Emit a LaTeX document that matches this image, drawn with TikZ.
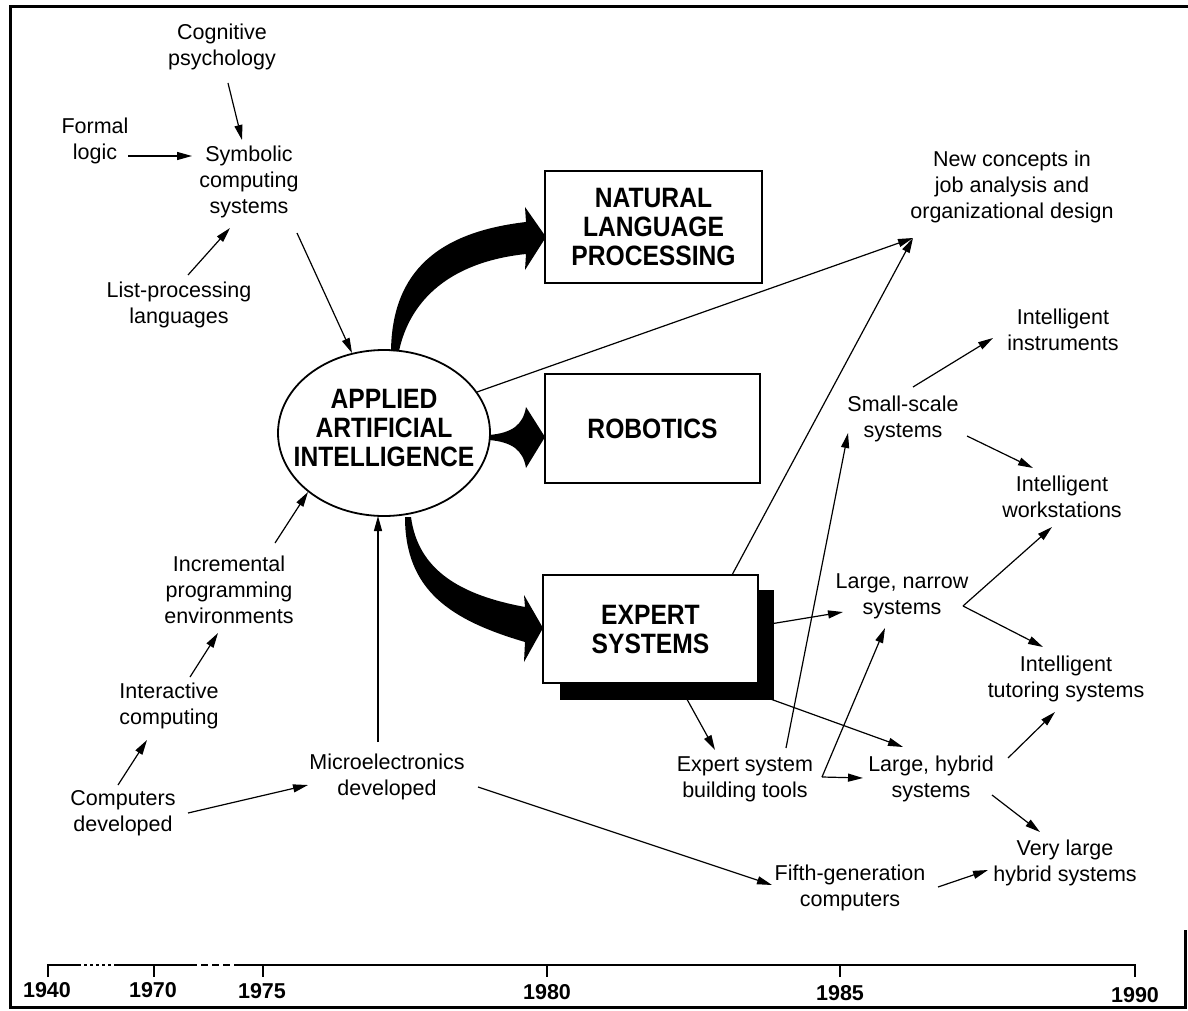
\documentclass[tikz,border=0pt]{standalone}
\usepackage{fontspec}
\setmainfont{Liberation Sans}
\newfontfamily\bcond[FakeStretch=0.88]{Liberation Sans}
\usetikzlibrary{arrows.meta,calc,shapes.geometric,backgrounds}
\begin{document}
\begin{tikzpicture}[x=1pt,y=-1pt,
  txt/.style={font=\fontsize{21.5}{26}\selectfont, align=center, inner sep=0pt},
  big/.style={font=\bcond\bfseries\fontsize{28}{29}\selectfont, align=center, inner sep=0pt},
  con/.style={line width=1.2pt, -{Triangle[length=15pt,width=8pt]}},
  boxst/.style={draw, line width=2pt, fill=white, inner sep=0pt},
  fat/.style={fill=black},
  yr/.style={font=\bfseries\fontsize{21.5}{24}\selectfont, inner sep=0pt},
  tl/.style={line width=2.5pt}
]
\useasboundingbox (0,0) rectangle (1188,1011);

% frame
\draw[line width=3pt] (1185,930) -- (1185,1007) -- (10,1007) -- (10,7) -- (1188,7);

% text nodes
\node[txt] (cog) at (222,47) {Cognitive\\psychology};
\node[txt] (formal) at (95,141) {Formal\\logic};
\node[txt] (sym) at (249,182) {Symbolic\\computing\\systems};
\node[txt] (list) at (179,305) {List-processing\\languages};
\node[txt] (incr) at (229,590) {Incremental\\programming\\environments};
\node[txt] (inter) at (169,706) {Interactive\\computing};
\node[txt] (comp) at (123,813) {Computers\\developed};
\node[txt] (micro) at (387,777) {Microelectronics\\developed};
\node[txt] (newc) at (1012,187) {New concepts in\\job analysis and\\organizational design};
\node[txt] (instr) at (1063,330) {Intelligent\\instruments};
\node[txt] (small) at (903,419) {Small-scale\\systems};
\node[txt] (work) at (1062,497) {Intelligent\\workstations};
\node[txt] (narrow) at (902,596) {Large, narrow\\systems};
\node[txt] (tutor) at (1066,679) {Intelligent\\tutoring systems};
\node[txt] (tools) at (745,779) {Expert system\\building tools};
\node[txt] (hybrid) at (931,779) {Large, hybrid\\systems};
\node[txt] (fifth) at (850,888) {Fifth-generation\\computers};
\node[txt] (vlarge) at (1065,863) {Very large\\hybrid systems};

% ellipse and boxes
\node[draw, ellipse, line width=1.8pt, fill=white, minimum width=212pt, minimum height=166pt, inner sep=0pt] (ai) at (384,433) {};
\node[big] (ait) at (384,428) {APPLIED\\ARTIFICIAL\\INTELLIGENCE};
\node[boxst, big, minimum width=217pt, minimum height=112pt] (nlp) at (653.5,227) {NATURAL\\LANGUAGE\\PROCESSING};
\node[boxst, big, minimum width=215pt, minimum height=109pt] (rob) at (652.5,428.5) {ROBOTICS};
\fill (560,590) rectangle (774,700);
\node[boxst, big, minimum width=215pt, minimum height=108pt] (es) at (650.5,629) {EXPERT\\SYSTEMS};

% connectors
\begin{scope}[on background layer]
\draw[con] ($(cog)+(6,36)$) -- ($(sym)+(-7,-42)$);
\draw[con] ($(formal)+(33,15)$) -- ($(sym)+(-57,-26)$);
\draw[con] ($(list)+(9,-30)$) -- ($(sym)+(-19,46)$);
\draw[con] ($(sym)+(48,51)$) -- ($(ai)+(-32,-80)$);
\draw[con] ($(incr)+(46,-47)$) -- ($(ai)+(-76,59)$);
\draw[con] ($(inter)+(21,-29)$) -- ($(incr)+(-11,43)$);
\draw[con] ($(comp)+(-5,-28)$) -- ($(inter)+(-22,34)$);
\draw[con] ($(comp)+(65,0)$) -- ($(micro)+(-79,8)$);
\draw[con] ($(micro)+(-9,-35)$) -- ($(ai)+(-6,83)$);
\draw[con] ($(micro)+(91,10)$) -- ($(fifth)+(-78,-3)$);
\draw[con] ($(fifth)+(88,-1)$) -- ($(vlarge)+(-77,7)$);
\draw[con] ($(hybrid)+(61,16)$) -- ($(vlarge)+(-25,-31)$);
\draw[con] ($(hybrid)+(77,-21)$) -- ($(tutor)+(-11,33)$);
\draw[con] ($(es)+(27.5,54)$) -- ($(tools)+(-30,-29)$);
\draw[con] ($(es)+(89.5,59)$) -- ($(hybrid)+(-28,-32)$);
\draw[con] ($(es)+(107.5,-3)$) -- ($(narrow)+(-59,16)$);
\draw[con] ($(es)+(81.5,-54)$) -- ($(newc)+(-99,51)$);
\draw[con] ($(ai)+(93,-41)$) -- ($(newc)+(-99,51)$);
\draw[con] ($(tools)+(41,-31)$) -- ($(small)+(-55,14)$);
\coordinate (tc) at ($(tools)+(77,-2)$);
\draw[con] (tc) -- ($(narrow)+(-17,32)$);
\draw[con] (tc) -- ($(hybrid)+(-68,-1)$);
\coordinate (nc) at ($(narrow)+(61,10)$);
\draw[con] (nc) -- ($(work)+(-10,30)$);
\draw[con] (nc) -- ($(tutor)+(-23,-32)$);
\draw[con] ($(small)+(10,-32)$) -- ($(instr)+(-70,8)$);
\draw[con] ($(small)+(64,17)$) -- ($(work)+(-29,-29)$);
\end{scope}

% fat arrows
\fill[fat] (391,351) .. controls (392,270) and (440,232) .. (526,222) -- (525,207) -- (546,237) -- (525,270) -- (526,254) .. controls (450,262) and (410,300) .. (399,351) -- cycle;
\fill[fat] (489,435) .. controls (512,433) and (523,425) .. (526,407) -- (545,437) -- (526,468) .. controls (523,450) and (512,442) .. (489,440) -- cycle;
\fill[fat] (405,517) .. controls (405,590) and (450,620) .. (525,642) -- (524,662) -- (543,628) -- (524,595) -- (525,607) .. controls (460,595) and (418,570) .. (411,517) -- cycle;

% timeline
\draw[tl] (48,977) -- (48,965) -- (78,965);
\draw[line width=2pt, dash pattern=on 3pt off 3pt] (78,965) -- (116,965);
\draw[tl] (116,965) -- (190,965);
\draw[line width=2pt, dash pattern=on 7pt off 4pt] (190,965) -- (240,965);
\draw[tl] (240,965) -- (1135,965) -- (1135,977);
\foreach \x in {154,263,547,840} \draw[tl] (\x,965) -- (\x,977);
\node[yr] (y40) at (47,990) {1940};
\node[yr] (y70) at (153,990.5) {1970};
\node[yr] (y75) at (262,991) {1975};
\node[yr] (y80) at (547,992) {1980};
\node[yr] (y85) at (840,993.5) {1985};
\node[yr] (y90) at (1135,995) {1990};
\end{tikzpicture}
\end{document}
